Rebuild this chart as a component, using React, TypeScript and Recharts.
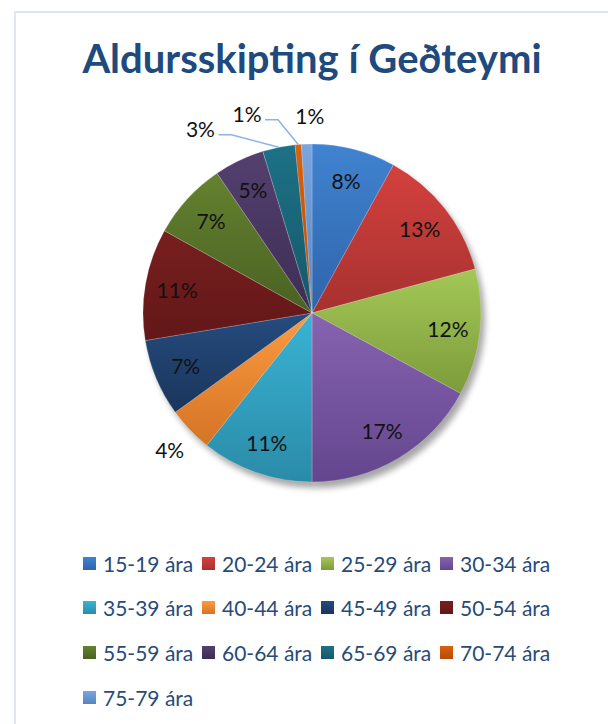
import React from 'react';
import { PieChart, Pie, Cell, Legend } from 'recharts';

const title = 'Aldursskipting í Geðteymi';
const categories = [
  '15-19 ára', '20-24 ára', '25-29 ára', '30-34 ára', '35-39 ára', '40-44 ára',
  '45-49 ára', '50-54 ára', '55-59 ára', '60-64 ára', '65-69 ára', '70-74 ára', '75-79 ára',
];
const shares = [8.0, 12.8, 12.1, 17.1, 10.7, 4.3, 7.4, 10.7, 7.4, 4.8, 3.1, 0.6, 1.0];
const topColors = [
  '#4083D0', '#D4413E', '#A4C857', '#8763B0', '#3AB3D4', '#FC9B3F',
  '#254B7E', '#781F1F', '#64822F', '#54406F', '#1D7186', '#D8620E', '#7AA5DE',
];
const bottomColors = [
  '#2F64AB', '#A6312F', '#7C9B3B', '#63468E', '#2A8BA8', '#D47426',
  '#1A355B', '#621718', '#4A6123', '#3D2D54', '#165869', '#B64A08', '#5884C2',
];

const data = categories.map((name, i) => ({ name, value: shares[i] }));

const FONT = "Lato, 'Open Sans', sans-serif";
const RAD = Math.PI / 180;

// label nudges for the small slices placed outside (best-fit layout)
const outsideLabels: Record<number, { gap: number; dx: number; dy: number; leader?: boolean }> = {
  5: { gap: 28, dx: 0, dy: 0 },
  10: { gap: 27, dx: -73, dy: 8, leader: true },
  11: { gap: 27, dx: -49, dy: -4, leader: true },
  12: { gap: 27, dx: 4, dy: -2 },
};

const renderLabel = (p: any) => {
  const { cx, cy, midAngle, outerRadius, percent, index } = p;
  const txt = `${Math.round(percent * 100)}%`;
  const polar = (r: number) => [cx + r * Math.cos(-midAngle * RAD), cy + r * Math.sin(-midAngle * RAD)];
  const o = outsideLabels[index];
  const style = { fontFamily: FONT, fontSize: 21, fill: '#111111' };
  if (!o) {
    const [x, y] = polar(outerRadius * 0.81);
    return (
      <text key={`l${index}`} x={x} y={y} textAnchor="middle" dominantBaseline="central" style={style}>
        {txt}
      </text>
    );
  }
  const [bx, by] = polar(outerRadius + o.gap);
  const x = bx + o.dx;
  const y = by + o.dy;
  const [ex, ey] = polar(outerRadius);
  return (
    <g key={`l${index}`}>
      {o.leader && (
        <polyline
          points={`${x + 18},${y + 6} ${x + 31},${y + 6} ${ex},${ey}`}
          fill="none"
          stroke="#8DB3E2"
          strokeWidth={1.5}
        />
      )}
      <text x={x} y={y} textAnchor="middle" dominantBaseline="central" style={style}>
        {txt}
      </text>
    </g>
  );
};

const renderLegend = (props: any) => {
  const raw = (props.payload || []) as any[];
  const seen = new Set<string>();
  const payload = raw.filter((e: any) => {
    const k = String(e.value);
    if (seen.has(k)) return false;
    seen.add(k);
    return true;
  });
  return (
    <div style={{ position: 'relative', width: 608, height: 180 }}>
      {payload.map((entry: any, j: number) => {
        const i = categories.indexOf(String(entry.value));
        const col = j % 4;
        const row = Math.floor(j / 4);
        return (
          <div
            key={`lg${j}`}
            style={{
              position: 'absolute',
              left: 83 + col * 119,
              top: row * 44.7,
              height: 26,
              display: 'flex',
              alignItems: 'center',
              whiteSpace: 'nowrap',
            }}
          >
            <div
              style={{
                width: 13,
                height: 13,
                background: `linear-gradient(${topColors[i]}, ${bottomColors[i]})`,
                marginRight: 7,
              }}
            />
            <span style={{ fontFamily: FONT, fontSize: 21, color: '#274B78' }}>{entry.value}</span>
          </div>
        );
      })}
    </div>
  );
};

export default function App() {
  return (
    <div style={{ position: 'absolute', left: 0, top: 0, width: 608, height: 724, background: '#fff', overflow: 'hidden' }}>
      <svg width="0" height="0" style={{ position: 'absolute' }}>
        <defs>
          {topColors.map((c, i) => (
            <linearGradient key={`g${i}`} id={`grad${i}`} x1="0" y1="0" x2="0" y2="1">
              <stop offset="0%" stopColor={c} />
              <stop offset="100%" stopColor={bottomColors[i]} />
            </linearGradient>
          ))}
          <filter id="pieShadow" x="-20%" y="-20%" width="140%" height="140%">
            <feGaussianBlur in="SourceAlpha" stdDeviation="3" />
            <feOffset dx="2" dy="3" result="b" />
            <feComponentTransfer>
              <feFuncA type="linear" slope="0.35" />
            </feComponentTransfer>
          </filter>
        </defs>
      </svg>
      <div
        style={{
          position: 'absolute',
          left: 14,
          top: 11,
          width: 700,
          height: 800,
          border: '2px solid #DCE6F4',
          boxSizing: 'border-box',
        }}
      />
      <div
        style={{
          position: 'absolute',
          left: 0,
          width: 624,
          top: 33,
          textAlign: 'center',
          fontFamily: FONT,
          fontWeight: 700,
          fontSize: 40,
          lineHeight: '50px',
          color: '#1F4A7E',
        }}
      >
        {title}
      </div>
      <div style={{ position: 'absolute', left: 0, top: 0 }}>
        <PieChart width={608} height={724} margin={{ top: 0, right: 0, bottom: 0, left: 0 }}>
          <Pie
            data={data}
            dataKey="value"
            nameKey="name"
            cx={314}
            cy={316}
            outerRadius={169}
            startAngle={90}
            endAngle={-270}
            isAnimationActive={false}
            legendType="none"
            label={false}
            labelLine={false}
            stroke="none"
          >
            {data.map((d, i) => (
              <Cell key={`s${i}`} fill="#000" filter="url(#pieShadow)" />
            ))}
          </Pie>
          <Pie
            data={data}
            dataKey="value"
            nameKey="name"
            cx={312}
            cy={313}
            outerRadius={169}
            startAngle={90}
            endAngle={-270}
            isAnimationActive={false}
            label={renderLabel}
            labelLine={false}
            stroke="#ffffff"
            strokeWidth={0.4}
            strokeOpacity={0.5}
          >
            {data.map((d, i) => (
              <Cell key={`c${i}`} fill={`url(#grad${i})`} />
            ))}
          </Pie>
          <Legend
            content={renderLegend}
            wrapperStyle={{ position: 'absolute', left: 0, top: 550, width: 608, height: 180 }}
          />
        </PieChart>
      </div>
    </div>
  );
}
